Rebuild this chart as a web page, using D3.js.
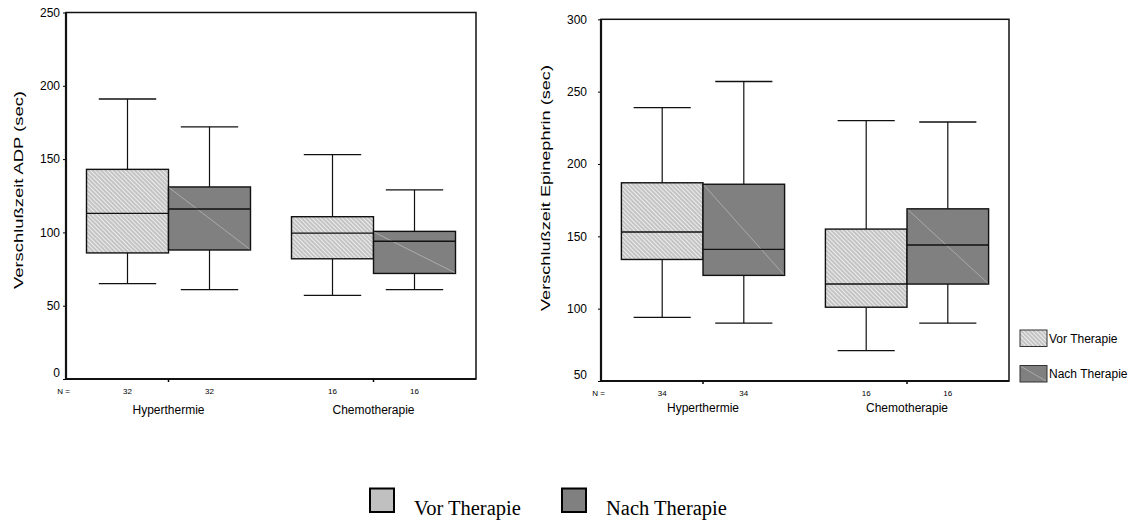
<!DOCTYPE html>
<html>
<head>
<meta charset="utf-8">
<script src="https://cdn.jsdelivr.net/npm/d3@7"></script>
<style>
  html, body { margin: 0; padding: 0; background: #fff; }
  svg { display: block; }
  text { fill: #000; }
</style>
</head>
<body>
<svg id="chart" width="1130" height="520" font-family="Liberation Sans, Arial, sans-serif"></svg>
<script>
// Groups and series
const groups = ["Hyperthermie", "Chemotherapie"];
const seriesNames = ["Vor Therapie", "Nach Therapie"];

// Box statistics per group: [lower whisker, Q1, median, Q3, upper whisker]
const adpVor  = [[65, 86, 113, 143, 191], [57, 82, 99.5, 110.7, 153]];
const adpNach = [[61, 88, 116, 131, 172], [61, 72, 94, 100.7, 129]];
const adpN    = [[32, 32], [16, 16]];

const epiVor  = [[94, 134, 153, 187, 239], [71, 101, 117, 155, 230]];
const epiNach = [[90, 123, 141, 186, 257], [90, 117, 144, 169, 229]];
const epiN    = [[34, 34], [16, 16]];

const adpTicks = [0, 50, 100, 150, 200, 250];
const epiTicks = [50, 100, 150, 200, 250, 300];

const svg = d3.select("#chart");
const defs = svg.append("defs");

// Diagonal hatch used for the "Vor Therapie" boxes
const hatch = defs.append("pattern")
  .attr("id", "hatchVor")
  .attr("patternUnits", "userSpaceOnUse")
  .attr("width", 3).attr("height", 3)
  .attr("patternTransform", "rotate(-45)");
hatch.append("rect").attr("width", 3).attr("height", 3).attr("fill", "#c4c4c4");
hatch.append("line").attr("x1", 0.5).attr("y1", 0).attr("x2", 0.5).attr("y2", 3)
  .attr("stroke", "#ececec").attr("stroke-width", 1);

const vorFill = "url(#hatchVor)";
const nachFill = "#808080";

function drawPanel(cfg) {
  const g = svg.append("g");
  const x = d3.scaleBand().domain(groups).range([cfg.left, cfg.right]).padding(0);
  const y = d3.scaleLinear().domain(cfg.domain).range([cfg.bottom, cfg.top]);
  const bw = x.bandwidth() * 0.4;
  const capW = bw * 0.7;

  // Y axis tick marks and labels
  const yAxis = d3.axisLeft(y).tickValues(cfg.ticks).tickSize(3).tickPadding(cfg.labelGap);
  const ya = g.append("g").attr("transform", `translate(${cfg.left},0)`).call(yAxis);
  ya.select(".domain").remove();
  ya.attr("font-family", null).attr("font-size", null);
  ya.selectAll(".tick line").attr("stroke", "#000");
  ya.selectAll(".tick text")
    .attr("font-size", 12)
    .attr("fill", "#000")
    .attr("dy", d => d === cfg.domain[0] ? "-0.2em" : "0.32em");

  // Category tick marks at the band centres (boundary between the two boxes)
  const xAxis = d3.axisBottom(x).tickSize(3).tickFormat("");
  const xa = g.append("g").attr("transform", `translate(0,${cfg.bottom})`).call(xAxis);
  xa.select(".domain").remove();
  xa.selectAll(".tick line").attr("stroke", "#000").attr("stroke-width", 1.5);

  // Boxes
  const series = [
    { name: seriesNames[0], stats: cfg.vor, offset: -1, fill: vorFill },
    { name: seriesNames[1], stats: cfg.nach, offset: 0, fill: nachFill }
  ];
  series.forEach((s, si) => {
    groups.forEach((grp, gi) => {
      const [lo, q1, med, q3, hi] = s.stats[gi];
      const cx = x(grp) + x.bandwidth() / 2;
      const x0 = cx + s.offset * bw;
      const mid = x0 + bw / 2;
      // whiskers
      g.append("line").attr("x1", mid).attr("x2", mid).attr("y1", y(hi)).attr("y2", y(q3))
        .attr("stroke", "#111").attr("stroke-width", 1.2);
      g.append("line").attr("x1", mid).attr("x2", mid).attr("y1", y(q1)).attr("y2", y(lo))
        .attr("stroke", "#111").attr("stroke-width", 1.2);
      g.append("line").attr("x1", mid - capW / 2).attr("x2", mid + capW / 2)
        .attr("y1", y(hi)).attr("y2", y(hi)).attr("stroke", "#111").attr("stroke-width", 1.3);
      g.append("line").attr("x1", mid - capW / 2).attr("x2", mid + capW / 2)
        .attr("y1", y(lo)).attr("y2", y(lo)).attr("stroke", "#111").attr("stroke-width", 1.3);
      // box
      g.append("rect").attr("x", x0).attr("y", y(q3)).attr("width", bw).attr("height", y(q1) - y(q3))
        .attr("fill", s.fill).attr("stroke", "#111").attr("stroke-width", 1.4);
      if (si === 1) {
        g.append("line").attr("x1", x0 + 1).attr("y1", y(q3) + 1)
          .attr("x2", x0 + bw - 1).attr("y2", y(q1) - 1)
          .attr("stroke", "#b4b4b4").attr("stroke-width", 0.8);
      }
      g.append("line").attr("x1", x0).attr("x2", x0 + bw).attr("y1", y(med)).attr("y2", y(med))
        .attr("stroke", "#111").attr("stroke-width", 1.4);
      // sample size
      g.append("text").attr("x", mid).attr("y", cfg.bottom + 15)
        .attr("text-anchor", "middle").attr("font-size", 8).text(cfg.n[gi][si]);
    });
  });

  // Frame
  g.append("rect").attr("x", cfg.left).attr("y", cfg.top)
    .attr("width", cfg.right - cfg.left).attr("height", cfg.bottom - cfg.top)
    .attr("fill", "none").attr("stroke", "#111").attr("stroke-width", 1.5);
  g.append("line").attr("x1", cfg.left).attr("x2", cfg.left).attr("y1", cfg.top).attr("y2", cfg.bottom)
    .attr("stroke", "#111").attr("stroke-width", 2.2);
  g.append("line").attr("x1", cfg.left).attr("x2", cfg.right).attr("y1", cfg.bottom).attr("y2", cfg.bottom)
    .attr("stroke", "#111").attr("stroke-width", 2.2);

  // "N =" label
  g.append("text").attr("x", cfg.left - 2.5).attr("y", cfg.bottom + 15)
    .attr("text-anchor", "middle").attr("font-size", 8).text("N =");

  // Group labels
  groups.forEach(grp => {
    g.append("text").attr("x", x(grp) + x.bandwidth() / 2).attr("y", cfg.bottom + cfg.catGap)
      .attr("text-anchor", "middle").attr("font-size", 12).text(grp);
  });

  // Y axis title
  g.append("text")
    .attr("transform", `translate(${cfg.titleX},${cfg.titleY}) rotate(-90)`)
    .attr("text-anchor", "middle").attr("font-size", 13)
    .attr("textLength", cfg.titleLen).attr("lengthAdjust", "spacingAndGlyphs")
    .text(cfg.title);
}

drawPanel({
  left: 66, right: 476, top: 12.5, bottom: 379,
  domain: [0, 250], ticks: adpTicks, labelGap: 3,
  vor: adpVor, nach: adpNach, n: adpN,
  title: "Verschlußzeit ADP (sec)", titleX: 23, titleY: 190, titleLen: 198, catGap: 35
});

drawPanel({
  left: 601, right: 1009, top: 19.3, bottom: 381,
  domain: [50, 300], ticks: epiTicks, labelGap: 11,
  vor: epiVor, nach: epiNach, n: epiN,
  title: "Verschlußzeit Epinephrin (sec)", titleX: 550, titleY: 188, titleLen: 246, catGap: 31
});

// Legend beside the right panel
const legendSide = svg.append("g");
seriesNames.forEach((name, i) => {
  const ly = 330 + i * 35.5;
  legendSide.append("rect").attr("x", 1020).attr("y", ly).attr("width", 27).attr("height", 16.5)
    .attr("fill", i === 0 ? vorFill : nachFill).attr("stroke", "#333").attr("stroke-width", 1);
  if (i === 1) {
    legendSide.append("line").attr("x1", 1021).attr("y1", ly + 1).attr("x2", 1046).attr("y2", ly + 15.5)
      .attr("stroke", "#b4b4b4").attr("stroke-width", 0.8);
  }
  legendSide.append("text").attr("x", 1049).attr("y", ly + 12.5).attr("font-size", 12).text(name);
});

// Legend below the panels
const legendBottom = svg.append("g").attr("font-family", "Liberation Serif, Times New Roman, serif");
const bottomItems = [
  { name: seriesNames[0], fill: "#c0c0c0", x: 370 },
  { name: seriesNames[1], fill: "#808080", x: 562 }
];
bottomItems.forEach(it => {
  legendBottom.append("rect").attr("x", it.x).attr("y", 488.5).attr("width", 24).attr("height", 23.5)
    .attr("fill", it.fill).attr("stroke", "#000").attr("stroke-width", 2);
  legendBottom.append("text").attr("x", it.x + 44).attr("y", 515)
    .attr("font-size", 20.5).text(it.name);
});
</script>
</body>
</html>
